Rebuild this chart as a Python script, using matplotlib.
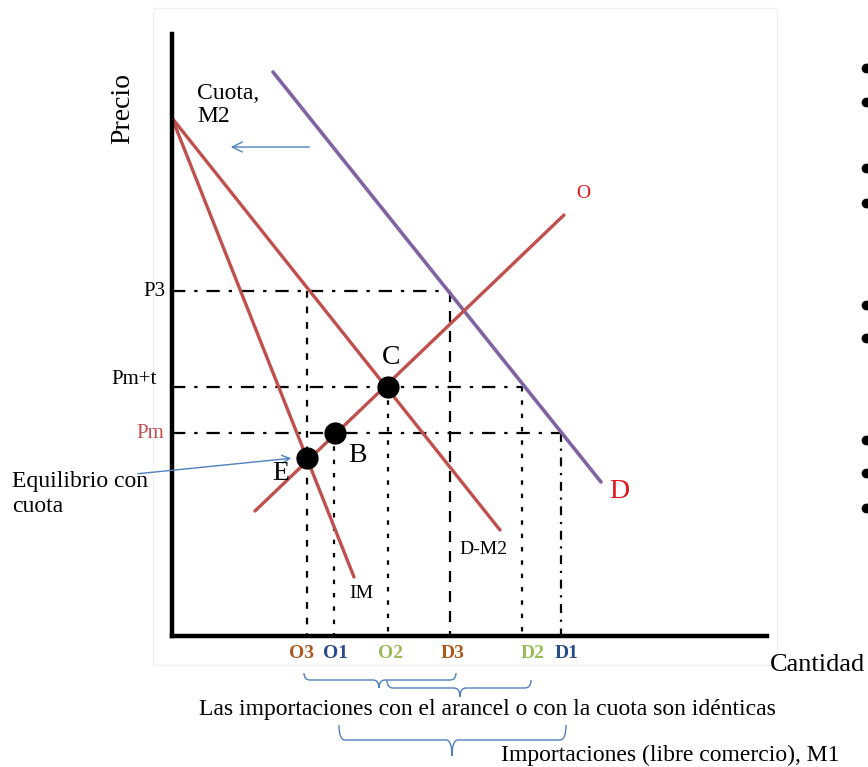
# coding:utf-8
import matplotlib
matplotlib.use("Agg")
import matplotlib.pyplot as plt
from matplotlib.path import Path
from matplotlib.patches import PathPatch

plt.rcParams['font.family'] = ['Liberation Serif', 'DejaVu Serif']

RED = '#c0504d'
PURPLE = '#8064a2'
BLUE = '#4f81bd'

# curve end points (quantity, price)
demand = [(101, 564), (429, 154)]
supply = [(83, 125), (392, 421)]
d_m2 = [(0, 518), (328, 106)]
im = [(0, 518), (182, 59)]

# price levels
price_names = ['P3', 'Pm+t', 'Pm']
price_vals = [345, 249, 203]

# quantities on the axis
q_names = ['O3', 'O1', 'O2', 'D3', 'D2', 'D1']
q_vals = [135, 162, 216, 278, 350, 389]
q_price = [345, 203, 249, 345, 249, 203]     # where each guide line starts
q_label_x = [130, 164, 219, 281, 361, 395]
q_colors = ['#b0581c', '#2a4a8a', '#9bbb59', '#b0581c', '#9bbb59', '#2a4a8a']
q_styles = [(0, (3, 4)), (0, (2, 4)), (0, (2, 4)), (0, (5, 4)), (0, (2, 4)), (0, (4, 3, 1, 3))]
price_end = [278, 350, 389]

# equilibrium points
pt_names = ['E', 'B', 'C']
pt_q = [135, 163, 216]
pt_p = [178, 203, 249]

# braces: left, right, top, middle, tip centre, tip
braces = [(132, 284, -37, -44, 207, -52),
          (215, 359, -44, -52, 288, -61),
          (167, 394, -89, -104, 280, -120)]

bullets_p = [568, 534, 468, 433, 331, 298, 196, 163, 128]


def brace(ax, x0, x1, yt, ym, xc, yb):
    r = 6
    verts = [(x0, yt), (x0, ym), (x0 + r, ym), (xc - r, ym), (xc, ym), (xc, yb),
             (xc, ym), (xc + r, ym), (x1 - r, ym), (x1, ym), (x1, yt)]
    codes = [Path.MOVETO, Path.CURVE3, Path.CURVE3, Path.LINETO, Path.CURVE3, Path.CURVE3,
             Path.CURVE3, Path.CURVE3, Path.LINETO, Path.CURVE3, Path.CURVE3]
    ax.add_patch(PathPatch(Path(verts, codes), fc='none', ec=BLUE, lw=1.0))


fig = plt.figure(figsize=(8.68, 7.67), dpi=100)
ax = fig.add_axes([0, 0, 1, 1])
ax.set_xlim(-172, 696)
ax.set_ylim(-131, 636)
ax.axis('off')

# faint frame of the original slide picture
ax.plot([-19, 605, 605, -19, -19], [-29, -29, 628, 628, -29], color='#f2f2f2', lw=1)

# guide lines
for name, p, qe in zip(price_names, price_vals, price_end):
    ax.plot([0, qe], [p, p], color='black', lw=1.6, ls=(0, (6, 4, 1.5, 4)))
for q, p, st in zip(q_vals, q_price, q_styles):
    ax.plot([q, q], [p, 0], color='black', lw=1.6, ls=st)

# curves
ax.plot(*zip(*demand), color=PURPLE, lw=2.6, solid_capstyle='round')
ax.plot(*zip(*supply), color=RED, lw=2.4, solid_capstyle='round')
ax.plot(*zip(*d_m2), color=RED, lw=2.4, solid_capstyle='round')
ax.plot(*zip(*im), color=RED, lw=2.4, solid_capstyle='round')

# axes
ax.plot([0, 0], [0, 602], color='black', lw=3.2)
ax.plot([0, 595], [0, 0], color='black', lw=3.2)

ax.plot(pt_q, pt_p, 'o', color='black', ms=15, zorder=5)

# labels
ax.text(-49, 528, 'Precio', rotation=90, fontsize=20, ha='center', va='center')
ax.text(25, 531, 'Cuota,\nM2', fontsize=17, ha='left', va='center', linespacing=1.1)
ax.annotate('', xy=(56, 489), xytext=(140, 489),
            arrowprops=dict(arrowstyle='->', color=BLUE, lw=1.0, mutation_scale=18))
ax.text(-6, 345, 'P3', fontsize=15, ha='right', va='center')
ax.text(-15, 257, 'Pm+t', fontsize=15, ha='right', va='center')
ax.text(-8, 203, 'Pm', fontsize=15, ha='right', va='center', color=RED)
ax.text(-160, 142, 'Equilibrio con\ncuota', fontsize=17, ha='left', va='center')
ax.annotate('', xy=(122, 178), xytext=(-37, 162),
            arrowprops=dict(arrowstyle='->', color=BLUE, lw=1.0, mutation_scale=14))
ax.text(109, 163, 'E', fontsize=20, ha='center', va='center')
ax.text(185, 181, 'B', fontsize=20, ha='center', va='center')
ax.text(219, 279, 'C', fontsize=20, ha='center', va='center')
ax.text(189, 43, 'IM', fontsize=14, ha='center', va='center')
ax.text(311, 87, 'D-M2', fontsize=14, ha='center', va='center')
ax.text(411, 442, 'O', fontsize=14, ha='center', va='center', color='#e0161b')
ax.text(447, 145, 'D', fontsize=20, ha='center', va='center', color='#e0161b')

for name, lx, c in zip(q_names, q_label_x, q_colors):
    ax.text(lx, -17, name, fontsize=14, fontweight='bold', color=c, ha='center', va='center')

ax.text(598, -29, 'Cantidad', fontsize=19, ha='left', va='center')

for b in braces:
    brace(ax, *b)
ax.text(315, -74, 'Las importaciones con el arancel o con la cuota son idénticas',
        fontsize=17, ha='center', va='center')
ax.text(329, -119, 'Importaciones (libre comercio), M1', fontsize=17, ha='left', va='center')

ax.plot([694] * len(bullets_p), bullets_p, 'o', color='black', ms=6, clip_on=False)

fig.savefig('out.png', dpi=100)
